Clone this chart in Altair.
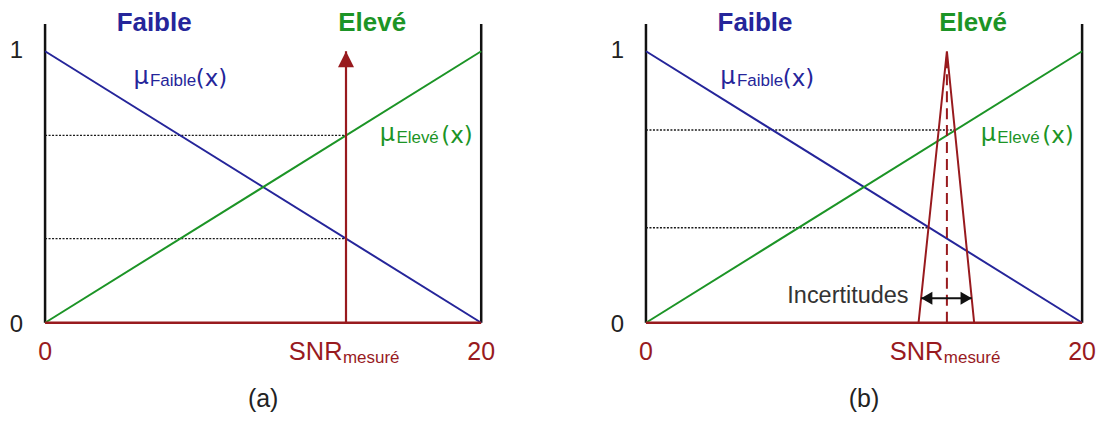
import altair as alt
import pandas as pd

# ---------------- data ----------------
x_ends = [0, 20]
mu_faible = [1, 0]
mu_eleve = [0, 1]
frame_top = 1.1
snr_mesure = 13.8
arrow_tip = 1.0
tri_x = [12.5, 13.8, 15.05]
tri_y = [0, 1, 0]
incert_x = [12.62, 14.94]
incert_y = 0.09
dotted_a_levels = [0.69, 0.31]
dotted_a_ends = [13.8, 13.8]
dotted_b_levels = [0.71, 0.35]
dotted_b_ends = [14.15, 12.95]
y_ticks = [0, 1]
y_tick_labels = ["0", "1"]
x_ticks = [0, 20]
x_tick_labels = ["0", "20"]
panel_labels = ["(a)", "(b)"]

BLUE = "#25259A"
GREEN = "#1C9426"
RED = "#981A1E"
DARK = "#222222"
FONT = "Liberation Sans"
FONT2 = "DejaVu Sans"

xs = alt.Scale(domain=[-1.7, 20.5], nice=False, zero=False)
ys = alt.Scale(domain=[-0.32, 1.158], nice=False, zero=False)


def X(field=None, datum=None):
    if datum is not None:
        return alt.X(datum=datum, type="quantitative", scale=xs, axis=None)
    return alt.X(field, type="quantitative", scale=xs, axis=None)


def Y(field=None, datum=None):
    if datum is not None:
        return alt.Y(datum=datum, type="quantitative", scale=ys, axis=None)
    return alt.Y(field, type="quantitative", scale=ys, axis=None)


def txt(s, x, y, size, color, align="center", weight="normal", font=FONT):
    return alt.Chart(pd.DataFrame({"t": [s]})).mark_text(
        font=font, fontSize=size, color=color, align=align,
        baseline="alphabetic", fontWeight=weight,
    ).encode(x=X(datum=x), y=Y(datum=y), text="t:N")


def mu_label(sub, x_mu, x_sub, x_par, y, color):
    return [
        txt("\u03bc", x_mu, y + 0.008, 24, color, align="left", font=FONT2),
        txt(sub, x_sub, y, 17, color, align="left"),
        txt("(x)", x_par, y, 23, color, align="left", font=FONT2),
    ]


def panel(kind):
    layers = []
    # frame verticals
    fr = pd.DataFrame({"x": x_ends, "y": [0, 0], "y2": [frame_top, frame_top]})
    layers.append(alt.Chart(fr).mark_rule(color="#111111", strokeWidth=2.5).encode(
        x=X("x"), y=Y("y"), y2="y2"))
    # dotted guide lines
    lev = dotted_a_levels if kind == "a" else dotted_b_levels
    ends = dotted_a_ends if kind == "a" else dotted_b_ends
    dd = pd.DataFrame({"x": [0] * len(lev), "x2": ends, "y": lev})
    layers.append(alt.Chart(dd).mark_rule(color="#1a1a1a", strokeWidth=1.3,
                                          strokeDash=[2, 1.5]).encode(
        x=X("x"), x2="x2", y=Y("y")))
    # membership lines
    lf = pd.DataFrame({"x": x_ends, "y": mu_faible})
    le = pd.DataFrame({"x": x_ends, "y": mu_eleve})
    layers.append(alt.Chart(lf).mark_line(color=BLUE, strokeWidth=2).encode(x=X("x"), y=Y("y")))
    layers.append(alt.Chart(le).mark_line(color=GREEN, strokeWidth=2).encode(x=X("x"), y=Y("y")))
    # red baseline
    bl = pd.DataFrame({"x": [x_ends[0]], "x2": [x_ends[1]], "y": [0]})
    layers.append(alt.Chart(bl).mark_rule(color=RED, strokeWidth=2.5).encode(
        x=X("x"), x2="x2", y=Y("y")))

    if kind == "a":
        ar = pd.DataFrame({"x": [snr_mesure], "y": [0], "y2": [arrow_tip]})
        layers.append(alt.Chart(ar).mark_rule(color=RED, strokeWidth=2.2).encode(
            x=X("x"), y=Y("y"), y2="y2"))
        hd = pd.DataFrame({"x": [snr_mesure], "y": [arrow_tip]})
        layers.append(alt.Chart(hd).mark_point(
            shape="M0,-1L-1,1L1,1Z", size=256, filled=True, color=RED,
            opacity=1, strokeWidth=0, yOffset=8).encode(x=X("x"), y=Y("y")))
    else:
        tr = pd.DataFrame({"x": tri_x, "y": tri_y, "o": list(range(len(tri_x)))})
        layers.append(alt.Chart(tr).mark_line(color=RED, strokeWidth=2,
                                              strokeJoin="miter").encode(
            x=X("x"), y=Y("y"), order="o:Q"))
        dl = pd.DataFrame({"x": [snr_mesure], "y": [0], "y2": [arrow_tip]})
        layers.append(alt.Chart(dl).mark_rule(color=RED, strokeWidth=2,
                                              strokeDash=[11, 6]).encode(
            x=X("x"), y=Y("y"), y2="y2"))
        ia = pd.DataFrame({"x": [incert_x[0]], "x2": [incert_x[1]], "y": [incert_y]})
        layers.append(alt.Chart(ia).mark_rule(color="#111111", strokeWidth=2).encode(
            x=X("x"), x2="x2", y=Y("y")))
        lh = pd.DataFrame({"x": [incert_x[0]], "y": [incert_y]})
        rh = pd.DataFrame({"x": [incert_x[1]], "y": [incert_y]})
        layers.append(alt.Chart(lh).mark_point(shape="triangle-left", size=169, filled=True,
                                               color="#111111", opacity=1, strokeWidth=0,
                                               xOffset=5.6).encode(x=X("x"), y=Y("y")))
        layers.append(alt.Chart(rh).mark_point(shape="triangle-right", size=169, filled=True,
                                               color="#111111", opacity=1, strokeWidth=0,
                                               xOffset=-5.6).encode(x=X("x"), y=Y("y")))
        layers.append(txt("Incertitudes", 12.04, 0.074, 23.5, "#333333", align="right"))

    # tick labels
    for v, lab in zip(y_ticks, y_tick_labels):
        layers.append(txt(lab, -1.31, v - 0.033 if v == 0 else v - 0.026, 24, DARK))
    for v, lab in zip(x_ticks, x_tick_labels):
        layers.append(txt(lab, v, -0.136, 25, RED))
    layers.append(txt("SNR", 13.64, -0.136, 25.5, RED, align="right"))
    layers.append(txt("mesuré", 13.66, -0.147, 17, RED, align="left"))

    # set names
    layers.append(txt("Faible", 5.0, 1.074, 26, BLUE, weight="bold"))
    layers.append(txt("Elevé", 15.0, 1.074, 26, GREEN, weight="bold"))

    # membership labels
    shift = 0.0 if kind == "a" else -0.64
    layers += mu_label("Faible", 4.05 + shift, 4.81 + shift, 6.91 + shift, 0.871, BLUE)
    layers += mu_label("Elevé", 15.35, 16.11, 18.17, 0.662, GREEN)

    # panel caption
    layers.append(txt(panel_labels[0] if kind == "a" else panel_labels[1], 10.0, -0.309, 25, DARK))

    return alt.layer(*layers).properties(width=485, height=402)


chart = alt.hconcat(panel("a"), panel("b"), spacing=117, bounds="flush").properties(
    padding=0
).configure_view(stroke=None)

chart.save("out.html", embed_options={"renderer": "svg", "actions": False})
